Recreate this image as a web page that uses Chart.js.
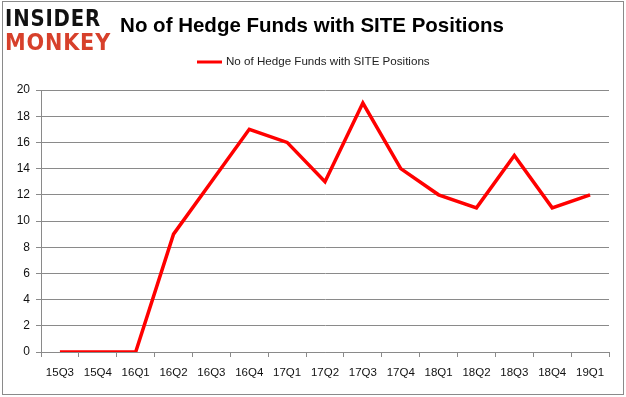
<!DOCTYPE html>
<html>
<head>
<meta charset="utf-8">
<script src="https://cdn.jsdelivr.net/npm/chart.js@4/dist/chart.umd.min.js"></script>
<style>
  html, body { margin: 0; padding: 0; background: #fff; }
  #wrap { position: relative; width: 626px; height: 397px; overflow: hidden; }
  canvas { position: absolute; left: 0; top: 0; }
  .logo { position: absolute; left: 5px; font-family: "DejaVu Sans", sans-serif; font-weight: 900; transform-origin: 0 0; white-space: nowrap; letter-spacing: 1px; }
  #l1 { top: 5px; color: #111; font-size: 24px; }
  #l2 { top: 28px; color: #d7402b; font-size: 25px; }
</style>
</head>
<body>
<div id="wrap">
  <canvas id="c" width="626" height="397"></canvas>
  <div class="logo" id="l1">INSIDER</div>
  <div class="logo" id="l2">MONKEY</div>
</div>
<script>
const categories = ["15Q3","15Q4","16Q1","16Q2","16Q3","16Q4","17Q1","17Q2","17Q3","17Q4","18Q1","18Q2","18Q3","18Q4","19Q1"];
const hedgeFunds = [0,0,0,9,13,17,16,13,19,14,12,11,15,11,12];
const seriesName = "No of Hedge Funds with SITE Positions";
const chartTitle = "No of Hedge Funds with SITE Positions";

// fit logo widths
(function(){
  const a = document.getElementById('l1'), b = document.getElementById('l2');
  const wa = a.getBoundingClientRect().width, wb = b.getBoundingClientRect().width;
  a.style.transform = 'scale(' + (96 / wa) + ',0.95)';
  b.style.transform = 'scale(' + (106 / wb) + ',0.95)';
})();

const decor = {
  id: 'decor',
  afterDraw(chart) {
    const ctx = chart.ctx;
    ctx.save();
    // outer border
    ctx.strokeStyle = '#8a8a8a';
    ctx.lineWidth = 1;
    ctx.strokeRect(2.5, 1.5, 621, 393);
    // title
    ctx.fillStyle = '#000';
    ctx.font = 'bold 20.5px "Liberation Sans", Arial, sans-serif';
    ctx.textAlign = 'center';
    ctx.textBaseline = 'middle';
    ctx.fillText(chartTitle, 312, 26);
    // legend
    const ds = chart.data.datasets[0];
    ctx.font = '11.6px "Liberation Sans", Arial, sans-serif';
    ctx.textAlign = 'left';
    ctx.fillStyle = '#222';
    ctx.fillText(ds.label, 226, 62);
    ctx.strokeStyle = ds.borderColor;
    ctx.lineWidth = 3;
    ctx.beginPath();
    ctx.moveTo(197, 62);
    ctx.lineTo(222, 62);
    ctx.stroke();
    ctx.restore();
  }
};

new Chart(document.getElementById('c'), {
  type: 'line',
  data: {
    labels: categories,
    datasets: [{
      label: seriesName,
      data: hedgeFunds,
      borderColor: '#ff0000',
      backgroundColor: '#ff0000',
      borderWidth: 3.5,
      pointRadius: 0,
      tension: 0,
      fill: false
    }]
  },
  options: {
    responsive: false,
    animation: false,
    devicePixelRatio: 1,
    layout: { padding: { top: 90, left: 0, right: 17, bottom: 0 } },
    plugins: {
      legend: { display: false },
      title: { display: false },
      tooltip: { enabled: false }
    },
    scales: {
      x: {
        offset: true,
        grid: {
          offset: true,
          drawOnChartArea: false,
          drawTicks: true,
          tickLength: 5,
          color: '#8a8a8a'
        },
        border: { display: true, color: '#8a8a8a' },
        ticks: {
          color: '#111',
          font: { family: '"Liberation Sans", Arial, sans-serif', size: 11.5 },
          padding: 9,
          maxRotation: 0,
          autoSkip: false
        },
        afterFit(scale) { scale.height = 45; }
      },
      y: {
        min: 0,
        max: 20,
        grid: {
          color: '#8a8a8a',
          tickLength: 5,
          drawTicks: true
        },
        border: { display: true, color: '#8a8a8a' },
        ticks: {
          stepSize: 2,
          color: '#111',
          font: { family: '"Liberation Sans", Arial, sans-serif', size: 12 },
          padding: 6
        },
        afterFit(scale) { scale.width = 41; }
      }
    }
  },
  plugins: [decor]
});
</script>
</body>
</html>
